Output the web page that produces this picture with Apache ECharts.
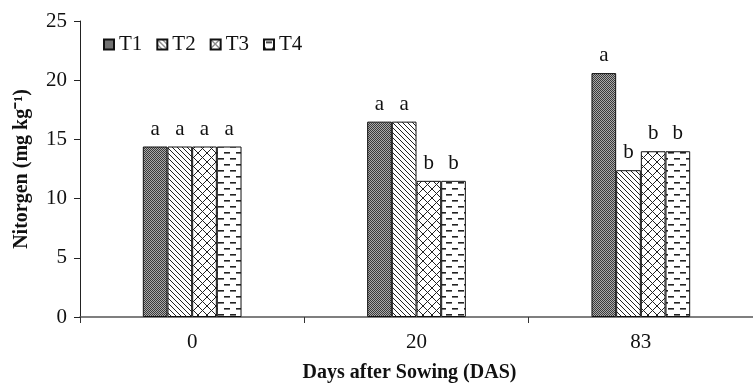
<!DOCTYPE html>
<html><head><meta charset="utf-8">
<script src="https://cdn.jsdelivr.net/npm/echarts@6/dist/echarts.min.js"></script>
<style>html,body{margin:0;padding:0;background:#fff}#c{width:753px;height:388px}</style>
</head><body><div id="c"></div>
<script>
var categories = ['0', '20', '83'];
var seriesNames = ['T1', 'T2', 'T3', 'T4'];
var T1 = [14.4, 16.5, 20.6];
var T2 = [14.4, 16.5, 12.4];
var T3 = [14.4, 11.5, 14.0];
var T4 = [14.4, 11.5, 14.0];
var L1 = ['a', 'a', 'a'];
var L2 = ['a', 'a', 'b'];
var L3 = ['a', 'b', 'b'];
var L4 = ['a', 'b', 'b'];
var yTicks = [0, 5, 10, 15, 20, 25];

function mk(w, h, draw) {
  var c = document.createElement('canvas'); c.width = w; c.height = h;
  var g = c.getContext('2d'); g.fillStyle = '#fff'; g.fillRect(0, 0, w, h);
  draw(g); return c;
}
var p1 = mk(2, 2, function (g) {
  g.fillStyle = '#aaa'; g.fillRect(0, 0, 2, 2);
  g.fillStyle = '#3a3a3a'; g.fillRect(0, 0, 1, 1); g.fillRect(1, 1, 1, 1);
});
var p2 = mk(5, 5, function (g) {
  g.strokeStyle = '#222'; g.lineWidth = 1;
  g.beginPath(); g.moveTo(-1, -1); g.lineTo(6, 6); g.moveTo(-6, -1); g.lineTo(1, 6); g.moveTo(4, -1); g.lineTo(11, 6); g.stroke();
});
var p3 = mk(9, 9, function (g) {
  g.strokeStyle = '#222'; g.lineWidth = 1;
  g.beginPath();
  g.moveTo(0, 0); g.lineTo(9, 9);
  g.moveTo(9, 0); g.lineTo(0, 9);
  g.stroke();
});
var p4 = mk(12, 12, function (g) {
  g.fillStyle = '#222';
  g.fillRect(2, 2, 6, 1.6);
  g.fillRect(8, 8, 6, 1.6); g.fillRect(-4, 8, 6, 1.6);
});
var pats = [p1, p2, p3, p4];
var vals = [T1, T2, T3, T4];
var lets = [L1, L2, L3, L4];
var font = 'Liberation Serif';

var series = seriesNames.map(function (n, i) {
  return {
    name: n, type: 'bar', data: vals[i],
    barGap: '0%', barCategoryGap: '56%',
    itemStyle: { color: { image: pats[i], repeat: 'repeat' }, borderColor: '#111', borderWidth: 1 },
    label: {
      show: true, position: 'top', distance: 7, fontFamily: font, fontSize: 21, color: '#111',
      formatter: (function (arr) { return function (p) { return arr[p.dataIndex]; }; })(lets[i])
    },
    emphasis: { disabled: true }
  };
});

var chart = echarts.init(document.getElementById('c'));
chart.setOption({
  animation: false,
  textStyle: { fontFamily: font },
  grid: { left: 80, width: 681, top: 21, height: 303, containLabel: false },
  legend: {
    left: 98, top: 29, itemWidth: 10, itemHeight: 10, itemGap: 14, icon: 'rect',
    textStyle: { fontFamily: font, fontSize: 21, color: '#111' },
    data: seriesNames
  },
  xAxis: {
    type: 'category', data: categories,
    name: 'Days after Sowing (DAS)', nameLocation: 'middle', nameGap: 46,
    nameTextStyle: { fontFamily: font, fontSize: 20, fontWeight: 'bold', color: '#111', padding: [0, 14, 0, 0] },
    axisLine: { lineStyle: { color: '#555', width: 1.5 } },
    axisTick: { show: true, length: 6, lineStyle: { color: '#333' } },
    axisLabel: { fontFamily: font, fontSize: 21, color: '#111', margin: 15 }
  },
  yAxis: {
    type: 'value', min: 0, max: 25, interval: 5,
    name: 'Nitorgen (mg kg⁻¹)', nameLocation: 'middle', nameGap: 48, nameRotate: 90,
    nameTextStyle: { fontFamily: font, fontSize: 20, fontWeight: 'bold', color: '#111' },
    axisLine: { show: true, lineStyle: { color: '#222', width: 1 } },
    axisTick: { show: true, length: 6, lineStyle: { color: '#222' } },
    splitLine: { show: false },
    axisLabel: { fontFamily: font, fontSize: 21, color: '#111', margin: 13,
      formatter: function (v) { return yTicks.indexOf(v) >= 0 ? String(v) : ''; } }
  },
  series: series
});
</script></body></html>
